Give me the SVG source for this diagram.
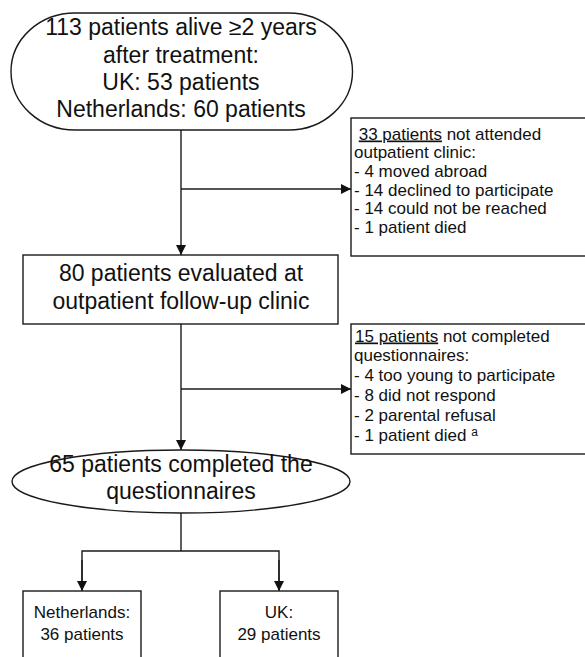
<svg xmlns="http://www.w3.org/2000/svg" width="585" height="657" viewBox="0 0 585 657">
<style>
.shape{fill:#fff;stroke:#1a1a1a;stroke-width:1.4}
.line{fill:none;stroke:#1a1a1a;stroke-width:1.4}
text{font-family:"Liberation Sans",Arial,sans-serif;fill:#111}
.big{font-size:23px;text-anchor:middle}
.small{font-size:17px}
.mid{font-size:17px;text-anchor:middle}
</style>
<defs>
<marker id="arr" viewBox="0 0 10 10" refX="10" refY="5" markerWidth="10" markerHeight="10" markerUnits="userSpaceOnUse" orient="auto">
<path d="M0,0 L10,5 L0,10 Z" fill="#111"/>
</marker>
</defs>
<rect width="585" height="657" fill="#fff"/>
<g id="connectors">
<line class="line" x1="181" y1="130" x2="181" y2="255" marker-end="url(#arr)"/>
<line class="line" x1="181" y1="189" x2="351" y2="189" marker-end="url(#arr)"/>
<line class="line" x1="181" y1="324" x2="181" y2="450" marker-end="url(#arr)"/>
<line class="line" x1="181" y1="389" x2="351" y2="389" marker-end="url(#arr)"/>
<polyline class="line" points="181,513 181,551"/>
<polyline class="line" points="82,590 82,551 279,551 279,590"/>
<line class="line" x1="82" y1="560" x2="82" y2="591" marker-end="url(#arr)"/>
<line class="line" x1="279" y1="560" x2="279" y2="591" marker-end="url(#arr)"/>
</g>
<g id="start">
<rect class="shape" x="11" y="13" width="341.5" height="117" rx="64" ry="58.5"/>
<text class="big" x="181" y="35">113 patients alive ≥2 years</text>
<text class="big" x="181" y="62.5">after treatment:</text>
<text class="big" x="181" y="90">UK: 53 patients</text>
<text class="big" x="181" y="117">Netherlands: 60 patients</text>
</g>
<g id="excluded1">
<rect class="shape" x="351" y="118" width="240" height="138"/>
<text class="small" x="354" y="139.5" xml:space="preserve"> <tspan text-decoration="underline">33 patients</tspan> not attended</text>
<text class="small" x="354" y="158.2">outpatient clinic:</text>
<text class="small" x="354" y="176.9">- 4 moved abroad</text>
<text class="small" x="354" y="195.6">- 14 declined to participate</text>
<text class="small" x="354" y="214.3">- 14 could not be reached</text>
<text class="small" x="354" y="233">- 1 patient died</text>
</g>
<g id="evaluated">
<rect class="shape" x="23" y="255" width="315" height="69"/>
<text class="big" x="181" y="281">80 patients evaluated at</text>
<text class="big" x="181" y="308.5">outpatient follow-up clinic</text>
</g>
<g id="excluded2">
<rect class="shape" x="351" y="324" width="240" height="130"/>
<text class="small" x="355" y="341.5"><tspan text-decoration="underline">15 patients</tspan> not completed</text>
<text class="small" x="354" y="361.3">questionnaires:</text>
<text class="small" x="354" y="381.1">- 4 too young to participate</text>
<text class="small" x="354" y="400.9">- 8 did not respond</text>
<text class="small" x="354" y="420.7">- 2 parental refusal</text>
<text class="small" x="354" y="440.5">- 1 patient died <tspan font-size="12" dy="-5">a</tspan></text>
</g>
<g id="completed">
<ellipse class="shape" cx="181" cy="481.5" rx="169" ry="31.5"/>
<text class="big" x="181" y="472">65 patients completed the</text>
<text class="big" x="181" y="499">questionnaires</text>
</g>
<g id="netherlands">
<rect class="shape" x="23" y="591" width="118" height="80"/>
<text class="mid" x="82" y="618">Netherlands:</text>
<text class="mid" x="82" y="640">36 patients</text>
</g>
<g id="uk">
<rect class="shape" x="220" y="591" width="118" height="80"/>
<text class="mid" x="279" y="618">UK:</text>
<text class="mid" x="279" y="640">29 patients</text>
</g>
</svg>
